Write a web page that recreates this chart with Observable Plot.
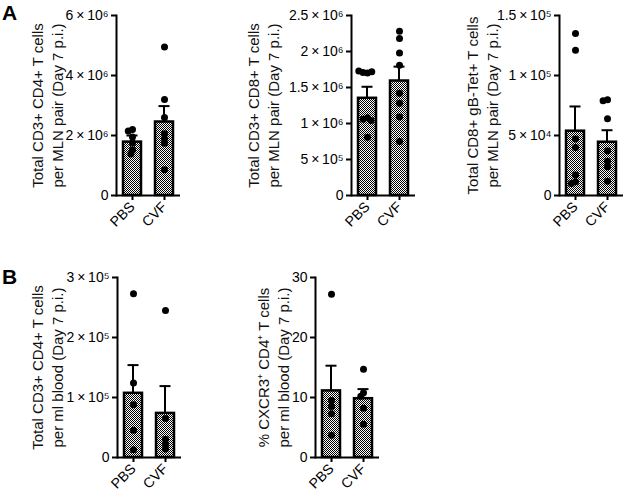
<!DOCTYPE html>
<html><head><meta charset="utf-8">
<script src="https://cdn.jsdelivr.net/npm/d3@7"></script>
<script src="https://cdn.jsdelivr.net/npm/@observablehq/plot@0.6"></script>
<style>
html,body{margin:0;padding:0;background:#fff;overflow:hidden}
#fig{position:relative;width:626px;height:499px;font-family:"Liberation Sans",Arial,sans-serif;overflow:hidden}
.panel{position:absolute}
.letter{position:absolute;font-weight:bold;font-size:21px;line-height:21px;color:#000}
</style></head><body>
<svg width="0" height="0" style="position:absolute"><defs>
<pattern id="hatch" width="2" height="2" patternUnits="userSpaceOnUse">
<rect width="2" height="2" fill="#fff"/><rect width="1" height="1" fill="#000"/><rect x="1" y="1" width="1" height="1" fill="#000"/>
</pattern></defs></svg>
<div id="fig">
<div class="letter" style="left:2px;top:2px">A</div>
<div class="letter" style="left:2px;top:266px">B</div>
</div>
<script>
const groups = ["PBS", "CVF"];

// Panel A1: Total CD3+ CD4+ T cells per MLN pair
const a1PBS = [2.2e6, 2.15e6, 1.95e6, 1.75e6, 1.52e6, 1.38e6];
const a1CVF = [4.95e6, 3.2e6, 2.6e6, 2.06e6, 1.89e6, 1.74e6, 0.86e6];
const a1Mean = [1.78e6, 2.45e6];
const a1Sem = [0.22e6, 0.53e6];
const a1Ticks = [0, 2e6, 4e6, 6e6];
const a1TickLabels = ["0", "2\u2009×\u200910⁶", "4\u2009×\u200910⁶", "6\u2009×\u200910⁶"];

// Panel A2: Total CD3+ CD8+ T cells per MLN pair
const a2PBS = [1.70e6, 1.71e6, 1.72e6, 1.73e6, 1.08e6, 1.06e6, 1.04e6, 0.81e6];
const a2CVF = [2.28e6, 2.18e6, 1.98e6, 1.81e6, 1.42e6, 1.28e6, 1.09e6, 0.75e6];
const a2Mean = [1.35e6, 1.59e6];
const a2Sem = [0.16e6, 0.2e6];
const a2Ticks = [0, 5e5, 1e6, 1.5e6, 2e6, 2.5e6];
const a2TickLabels = ["0", "5\u2009×\u200910⁵", "1\u2009×\u200910⁶", "1.5\u2009×\u200910⁶", "2\u2009×\u200910⁶", "2.5\u2009×\u200910⁶"];

// Panel A3: Total CD8+ gB-Tet+ T cells per MLN pair
const a3PBS = [1.35e5, 1.21e5, 4.7e4, 4.0e4, 1.7e4, 1.15e4, 1.0e4];
const a3CVF = [7.97e4, 7.9e4, 6.4e4, 3.7e4, 2.86e4, 2.4e4, 1.19e4];
const a3Mean = [5.36e4, 4.44e4];
const a3Sem = [2.06e4, 1.0e4];
const a3Ticks = [0, 5e4, 1e5, 1.5e5];
const a3TickLabels = ["0", "5\u2009×\u200910⁴", "1\u2009×\u200910⁵", "1.5\u2009×\u200910⁵"];

// Panel B1: Total CD3+ CD4+ T cells per ml blood
const b1PBS = [2.73e5, 1.24e5, 0.88e5, 0.455e5, 0.13e5];
const b1CVF = [2.45e5, 0.65e5, 0.305e5, 0.22e5, 0.14e5];
const b1Mean = [1.07e5, 0.735e5];
const b1Sem = [0.47e5, 0.455e5];
const b1Ticks = [0, 1e5, 2e5, 3e5];
const b1TickLabels = ["0", "1\u2009×\u200910⁵", "2\u2009×\u200910⁵", "3\u2009×\u200910⁵"];

// Panel B2: % CXCR3+ CD4+ T cells per ml blood
const b2PBS = [27.2, 9.5, 8.5, 7.3, 3.7];
const b2CVF = [14.7, 10.8, 10.2, 8.2, 5.55];
const b2Mean = [11.1, 9.8];
const b2Sem = [4.2, 1.6];
const b2Ticks = [0, 10, 20, 30];
const b2TickLabels = ["0", "10", "20", "30"];

const panels = [
  {pbs: a1PBS, cvf: a1CVF, mean: a1Mean, sem: a1Sem, ticks: a1Ticks, labels: a1TickLabels,
   title: "Total CD3+ CD4+ T cells\nper MLN pair (Day 7 p.i.)", left: 0, top: 0, ml: 116, lo: 87},
  {pbs: a2PBS, cvf: a2CVF, mean: a2Mean, sem: a2Sem, ticks: a2Ticks, labels: a2TickLabels,
   title: "Total CD3+ CD8+ T cells\nper MLN pair (Day 7 p.i.)", left: 200, top: 0, ml: 151, lo: 106},
  {pbs: a3PBS, cvf: a3CVF, mean: a3Mean, sem: a3Sem, ticks: a3Ticks, labels: a3TickLabels,
   title: "Total CD8+ gB-Tet+ T cells\nper MLN pair (Day 7 p.i.)", left: 420, top: 0, ml: 139, lo: 95},
  {pbs: b1PBS, cvf: b1CVF, mean: b1Mean, sem: b1Sem, ticks: b1Ticks, labels: b1TickLabels,
   title: "Total CD3+ CD4+ T cells\nper ml blood (Day 7 p.i.)", left: 0, top: 262, ml: 117, lo: 88},
  {pbs: b2PBS, cvf: b2CVF, mean: b2Mean, sem: b2Sem, ticks: b2Ticks, labels: b2TickLabels,
   title: "% CXCR3⁺ CD4⁺ T cells\nper ml blood (Day 7 p.i.)", left: 200, top: 262, ml: 115, lo: 60}
];

const fig = document.getElementById("fig");
for (const p of panels) {
  const points = [
    ...p.pbs.map(v => ({group: groups[0], value: v})),
    ...p.cvf.map(v => ({group: groups[1], value: v}))
  ];
  const summary = groups.map((g, i) => ({group: g, mean: p.mean[i], upper: p.mean[i] + p.sem[i]}));
  const W = 64;
  const chart = Plot.plot({
    width: p.ml + W + 6,
    height: 240,
    marginLeft: p.ml, marginRight: 6, marginTop: 15, marginBottom: 45,
    style: {fontFamily: "'Liberation Sans', Arial, sans-serif", fontSize: "14px", color: "#000", background: "transparent", overflow: "visible"},
    fx: {domain: groups, padding: 0, label: null},
    y: {domain: [0, p.ticks[p.ticks.length - 1]], label: null},
    marks: [
      Plot.rectY(summary, {fx: "group", y: "mean", fill: "url(#hatch)", stroke: "#000", strokeWidth: 2.5, insetLeft: 7, insetRight: 7}),
      Plot.rectY(summary, {fx: "group", y1: "mean", y2: "upper", fill: "#000", insetLeft: 15, insetRight: 15}),
      Plot.tickY(summary, {fx: "group", y: "upper", stroke: "#000", strokeWidth: 2, insetLeft: 10.5, insetRight: 10.5}),
      Plot.dot(points, Plot.dodgeX({anchor: "middle", padding: -2.5}, {fx: "group", y: "value", r: 3.5, fill: "#000"})),
      Plot.ruleY([0], {stroke: "#000", strokeWidth: 2}),
      Plot.frame({anchor: "left", facetAnchor: "left", stroke: "#000", strokeWidth: 2}),
      Plot.axisY({ticks: p.ticks, tickFormat: d => p.labels[p.ticks.indexOf(d)], tickSize: 5, tickPadding: 3, stroke: "#000", strokeWidth: 2, label: null, fontSize: 14}),
      Plot.axisFx({anchor: "bottom", tickRotate: -45, tickSize: 5, tickPadding: 4, stroke: "#000", strokeWidth: 2, label: null, fontSize: 14}),
      Plot.text([p.title], {frameAnchor: "left", textAnchor: "middle", rotate: -90, dx: -p.lo, lineAnchor: "top", lineHeight: 1.3, fontSize: 15, fill: "#111", facetAnchor: "left"})
    ]
  });
  const wrap = document.createElement("div");
  wrap.className = "panel";
  wrap.style.left = p.left + "px";
  wrap.style.top = p.top + "px";
  chart.style.maxWidth = "none";
  wrap.appendChild(chart);
  fig.appendChild(wrap);
}
</script>
</body></html>
